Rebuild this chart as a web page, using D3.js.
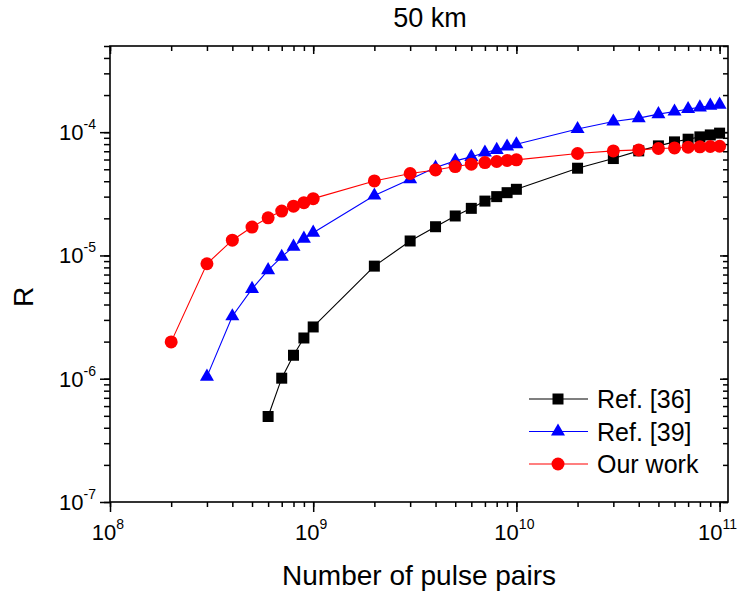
<!DOCTYPE html>
<html>
<head>
<meta charset="utf-8">
<script src="https://cdn.jsdelivr.net/npm/d3@7/dist/d3.min.js"></script>
<style>
    body { margin: 0; background: #fff; }
    svg { font-family: "Liberation Sans", Arial, sans-serif; }
</style>
</head>
<body>
<svg width="745" height="595"></svg>
<script>
// Data (50 km)
const ref36Pulses = [6e8, 7e8, 8e8, 9e8, 1e9, 2e9, 3e9, 4e9, 5e9, 6e9, 7e9, 8e9, 9e9, 1e10,
    2e10, 3e10, 4e10, 5e10, 6e10, 7e10, 8e10, 9e10, 1e11];
const ref36R = [4.94e-7, 1.01e-6, 1.55e-6, 2.14e-6, 2.63e-6, 8.19e-6, 1.31e-5, 1.71e-5, 2.09e-5,
    2.41e-5, 2.76e-5, 3.0e-5, 3.23e-5, 3.44e-5, 5.1e-5, 6.11e-5, 7.05e-5, 7.74e-5, 8.34e-5,
    8.77e-5, 9.16e-5, 9.5e-5, 9.82e-5];

const ref39Pulses = [3e8, 4e8, 5e8, 6e8, 7e8, 8e8, 9e8, 1e9, 2e9, 3e9, 4e9, 5e9, 6e9, 7e9, 8e9,
    9e9, 1e10, 2e10, 3e10, 4e10, 5e10, 6e10, 7e10, 8e10, 9e10, 1e11];
const ref39R = [1.04e-6, 3.21e-6, 5.36e-6, 7.59e-6, 9.75e-6, 1.18e-5, 1.37e-5, 1.53e-5, 3.06e-5,
    4.15e-5, 5.16e-5, 5.85e-5, 6.3e-5, 6.84e-5, 7.18e-5, 7.65e-5, 7.98e-5, 1.06e-4, 1.22e-4,
    1.30e-4, 1.40e-4, 1.47e-4, 1.54e-4, 1.59e-4, 1.64e-4, 1.67e-4];

const ourPulses = [2e8, 3e8, 4e8, 5e8, 6e8, 7e8, 8e8, 9e8, 1e9, 2e9, 3e9, 4e9, 5e9, 6e9, 7e9, 8e9,
    9e9, 1e10, 2e10, 3e10, 4e10, 5e10, 6e10, 7e10, 8e10, 9e10, 1e11];
const ourR = [1.99e-6, 8.56e-6, 1.33e-5, 1.70e-5, 2.02e-5, 2.29e-5, 2.51e-5, 2.68e-5, 2.89e-5,
    4.02e-5, 4.62e-5, 4.94e-5, 5.26e-5, 5.50e-5, 5.67e-5, 5.78e-5, 5.89e-5, 5.96e-5,
    6.71e-5, 7.05e-5, 7.18e-5, 7.37e-5, 7.45e-5, 7.55e-5, 7.6e-5, 7.65e-5, 7.69e-5];

const seriesNames = ["Ref. [36]", "Ref. [39]", "Our work"];
const xMajor = [1e8, 1e9, 1e10, 1e11];
const xExp = ["8", "9", "10", "11"];
const yMajor = [1e-7, 1e-6, 1e-5, 1e-4];
const yExp = ["-7", "-6", "-5", "-4"];

const margin = { left: 110, right: 17, top: 46, bottom: 93 };
const width = 745, height = 595;
const x0 = margin.left, x1 = width - margin.right;
const y0 = height - margin.bottom, y1 = margin.top;

const x = d3.scaleLog().domain([1e8, 1.1e11]).range([x0, x1]);
const y = d3.scaleLog().domain([1e-7, 5e-4]).range([y0, y1]);

const svg = d3.select("svg");

const series = [
    { name: seriesNames[0], xs: ref36Pulses, ys: ref36R, color: "#000000", shape: "square" },
    { name: seriesNames[1], xs: ref39Pulses, ys: ref39R, color: "#0000ff", shape: "triangle" },
    { name: seriesNames[2], xs: ourPulses, ys: ourR, color: "#ff0000", shape: "circle" }
];

const minorX = x.ticks().filter(v => v <= 1.1e11);
const minorY = y.ticks();

// axes: bottom/left outward, top/right inward, no labels from d3
function tickAxis(axis, vals, size) {
    return axis.tickValues(vals).tickSize(size).tickFormat("");
}
const axes = svg.append("g").attr("class", "axes");
axes.append("g").attr("transform", `translate(0,${y0})`).call(tickAxis(d3.axisBottom(x), minorX, 5));
axes.append("g").attr("transform", `translate(0,${y0})`).call(tickAxis(d3.axisBottom(x), xMajor, 10));
axes.append("g").attr("transform", `translate(0,${y1})`).call(tickAxis(d3.axisBottom(x), minorX, 5));
axes.append("g").attr("transform", `translate(0,${y1})`).call(tickAxis(d3.axisBottom(x), xMajor, 8));
axes.append("g").attr("transform", `translate(${x0},0)`).call(tickAxis(d3.axisLeft(y), minorY, 6));
axes.append("g").attr("transform", `translate(${x0},0)`).call(tickAxis(d3.axisLeft(y), yMajor, 10));
axes.append("g").attr("transform", `translate(${x1},0)`).call(tickAxis(d3.axisLeft(y), minorY, 5));
axes.append("g").attr("transform", `translate(${x1},0)`).call(tickAxis(d3.axisLeft(y), yMajor, 8));
axes.selectAll(".domain").remove();
axes.selectAll("line").attr("stroke", "#000").attr("stroke-width", 1.5);

svg.append("rect")
    .attr("x", x0).attr("y", y1)
    .attr("width", x1 - x0).attr("height", y0 - y1)
    .attr("fill", "none").attr("stroke", "#000").attr("stroke-width", 1.6);

// tick labels with superscripts
const xl = svg.append("g").selectAll("text").data(xMajor).enter().append("text")
    .attr("x", d => x(d) - 2).attr("y", 540)
    .attr("text-anchor", "middle").attr("font-size", 22);
xl.append("tspan").text("10");
xl.append("tspan").attr("dy", -11).attr("font-size", 14).text((d, i) => xExp[i]);

const yl = svg.append("g").selectAll("text").data(yMajor).enter().append("text")
    .attr("x", 96).attr("y", d => y(d) + 8)
    .attr("text-anchor", "end").attr("font-size", 22);
yl.append("tspan").text("10");
yl.append("tspan").attr("dy", -11).attr("font-size", 14).text((d, i) => yExp[i]);

// titles
svg.append("text").attr("x", 430).attr("y", 27).attr("text-anchor", "middle")
    .attr("font-size", 27).text("50 km");
svg.append("text").attr("x", 419).attr("y", 585).attr("text-anchor", "middle")
    .attr("font-size", 28).text("Number of pulse pairs");
svg.append("text").attr("transform", "translate(33,297) rotate(-90)")
    .attr("text-anchor", "middle").attr("font-size", 28).text("R");

function drawMarker(g, shape, color) {
    if (shape === "circle") {
        return g.append("circle").attr("r", 6.5).attr("fill", color);
    }
    const sym = shape === "square" ? d3.symbolSquare : d3.symbolTriangle;
    const size = shape === "square" ? 121 : 85;
    return g.append("path").attr("d", d3.symbol().type(sym).size(size)).attr("fill", color);
}

const line = d3.line().x(d => x(d[0])).y(d => y(d[1]));

series.forEach(s => {
    const pts = s.xs.map((v, i) => [v, s.ys[i]]);
    const g = svg.append("g");
    g.append("path").datum(pts).attr("d", line)
        .attr("fill", "none").attr("stroke", s.color).attr("stroke-width", 1.1);
    g.selectAll("g.pt").data(pts).enter().append("g")
        .attr("class", "pt")
        .attr("transform", d => `translate(${x(d[0])},${y(d[1])})`)
        .each(function() { drawMarker(d3.select(this), s.shape, s.color); });
});

// legend
const legend = svg.append("g");
series.forEach((s, i) => {
    const cy = 399 + i * 32.5;
    legend.append("line").attr("x1", 529).attr("x2", 588).attr("y1", cy).attr("y2", cy)
        .attr("stroke", s.color).attr("stroke-width", 1.1);
    const m = legend.append("g").attr("transform", `translate(558,${cy})`);
    drawMarker(m, s.shape, s.color);
    legend.append("text").attr("x", 597).attr("y", cy + 9).attr("font-size", 25).text(s.name);
});
</script>
</body>
</html>
